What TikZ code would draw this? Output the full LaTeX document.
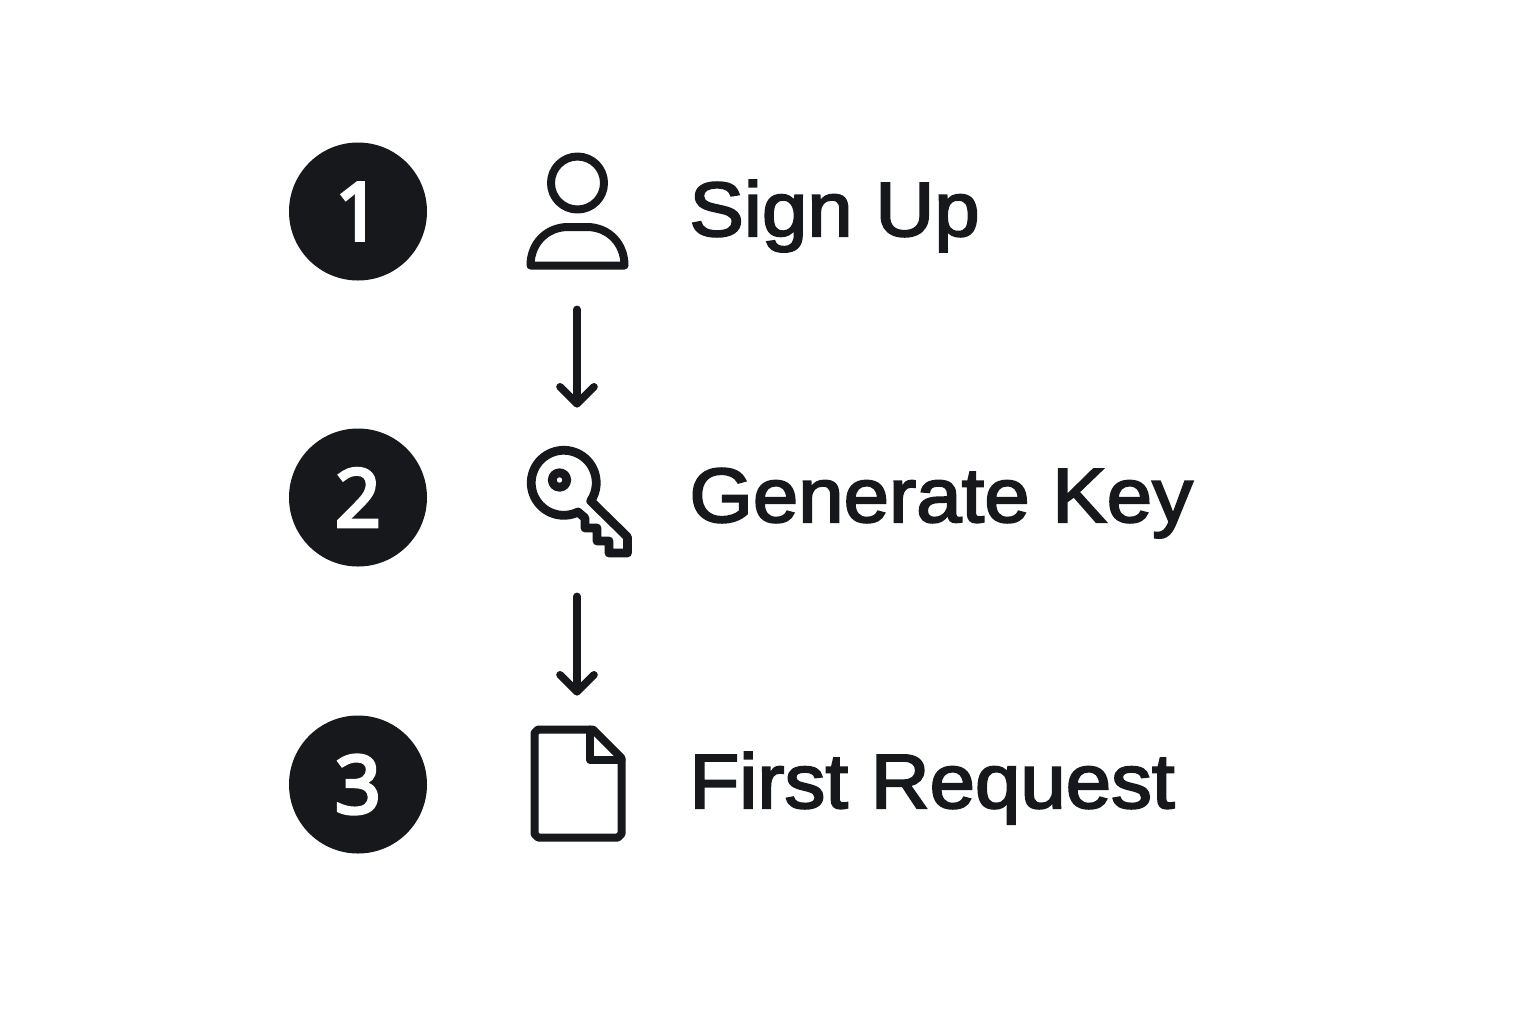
\documentclass[tikz,border=0pt]{standalone}
\usepackage{fontspec}
\setmainfont{Liberation Sans}[FakeBold=2.6,FakeStretch=1.06]
\newfontfamily\digitfont{Open Sans}[FakeBold=4.5]
\usetikzlibrary{arrows.meta}
\definecolor{ink}{HTML}{16181B}
\tikzset{
  x=0.5pt,y=-0.5pt,
  badge/.style={circle,fill=ink,draw=none,minimum size=69pt,inner sep=0pt,text=white,font=\digitfont\fontsize{40}{40}\selectfont},
  iconbox/.style={draw=none,inner sep=0pt,minimum width=52pt},
  iconline/.style={draw=ink,line width=4pt,line join=round,line cap=round},
  flow/.style={draw=ink,line width=3.8pt,line cap=round,-{Straight Barb[length=8.5pt,width=17pt,round]}},
  label/.style={anchor=base west,inner sep=0pt,text=ink,font=\fontsize{38.5}{40}\selectfont},
}
\begin{document}
\begin{tikzpicture}
\useasboundingbox (0,0) rectangle (1536,1024);
\fill[white] (0,0) rectangle (1536,1024);
% badges
\node[badge] (b1) at (358,211.5) {1};
\node[badge] (b2) at (358,497.5) {2};
\node[badge] (b3) at (358,784.5) {3};
% icon boxes
\node[iconbox,minimum height=58pt] (i1) at (577,211) {};
\node[iconbox,minimum height=55pt] (i2) at (577,502) {};
\node[iconbox,minimum height=57.5pt] (i3) at (577,783.5) {};
% person
\draw[iconline] (577.5,183) circle[radius=26.5];
\draw[iconline] (530.5,265.5) .. controls (530.5,243) and (547,227) .. (568,227)
  -- (587,227) .. controls (608,227) and (624.5,243) .. (624.5,265.5) -- cycle;
% key
\draw[iconline,line width=4.4pt] (578,512) arc[start angle=64,delta angle=330,radius=32.5]
  -- (627.5,537) -- (627.5,553) -- (609,553) -- (609,541) -- (597,541) -- (597,528) -- (585,528) -- (585,518) -- cycle;
\draw[iconline,line width=4.4pt] (559.5,480) circle[radius=7.2];
% document
\draw[iconline] (593,729.5) -- (538,729.5) -- (534.5,733) -- (534.5,834) -- (538,837.5)
  -- (618,837.5) -- (621.5,834) -- (621.5,758) -- cycle;
\draw[iconline] (590,729.5) -- (590,760) -- (621.5,760);
% connectors
\draw[flow,shorten <=20pt,shorten >=19.5pt] (i1.south) -- (i1.south |- i2.north);
\draw[flow,shorten <=19.5pt,shorten >=15pt] (i2.south) -- (i2.south |- i3.north);
% labels
\node[label] (t1) at (689,236) {Sign Up};
\node[label] (t2) at (689,522) {Generate Key};
\node[label] (t3) at (689,808) {First Request};
\end{tikzpicture}
\end{document}
